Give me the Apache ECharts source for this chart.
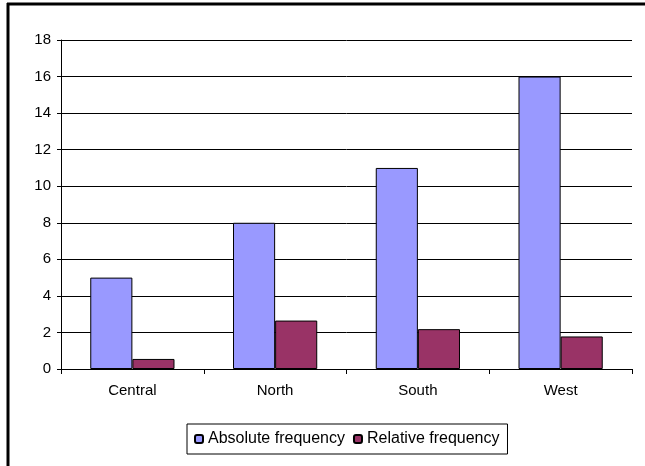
<!DOCTYPE html>
<html>
<head>
<meta charset="utf-8">
<script src="https://cdn.jsdelivr.net/npm/echarts@6/dist/echarts.min.js"></script>
<style>
  html, body { margin: 0; padding: 0; background: #fff; }
  #chart { width: 645px; height: 466px; }
</style>
</head>
<body>
<div id="chart"></div>
<script>
// Frequency table by region
const regions = ['Central', 'North', 'South', 'West'];
const absoluteFrequency = [5, 8, 11, 16];
const relativeFrequency = [0.55, 2.65, 2.18, 1.78];
const yTicks = [0, 2, 4, 6, 8, 10, 12, 14, 16, 18];

const chart = echarts.init(document.getElementById('chart'), null, { renderer: 'canvas' });
const font = 'Liberation Sans, Arial, sans-serif';

chart.setOption({
  animation: false,
  backgroundColor: '#fff',
  graphic: [
    // frame around the chart area (top and left edges)
    { type: 'line', shape: { x1: 7, y1: 4, x2: 645, y2: 4 }, style: { stroke: '#000', lineWidth: 3 } },
    { type: 'line', shape: { x1: 8, y1: 3, x2: 8, y2: 466 }, style: { stroke: '#000', lineWidth: 3 } }
  ],
  grid: { left: 61, right: 13, top: 40, bottom: 97 },
  legend: {
    bottom: 12,
    left: 187,
    itemWidth: 8,
    itemHeight: 8,
    itemGap: 8,
    padding: [7, 8, 7, 7],
    borderColor: '#000',
    borderWidth: 1,
    textStyle: { fontFamily: font, fontSize: 16, color: '#000' },
    data: ['Absolute frequency', 'Relative frequency']
  },
  xAxis: {
    type: 'category',
    data: regions,
    axisLine: { lineStyle: { color: '#000', width: 1 } },
    axisTick: { show: true, length: 5, lineStyle: { color: '#000' } },
    axisLabel: { fontFamily: font, fontSize: 15, color: '#000', margin: 14 }
  },
  yAxis: {
    type: 'value',
    min: yTicks[0],
    max: yTicks[yTicks.length - 1],
    interval: 2,
    axisLine: { show: true, lineStyle: { color: '#000', width: 1 } },
    axisTick: { show: true, length: 4, lineStyle: { color: '#000' } },
    axisLabel: { fontFamily: font, fontSize: 15, color: '#000', margin: 10 },
    splitLine: { show: true, lineStyle: { color: '#000', width: 1 } }
  },
  series: [
    {
      name: 'Absolute frequency',
      type: 'bar',
      data: absoluteFrequency,
      barGap: '0%',
      barCategoryGap: '41%',
      itemStyle: { color: '#9999ff', borderColor: '#000', borderWidth: 1 }
    },
    {
      name: 'Relative frequency',
      type: 'bar',
      data: relativeFrequency,
      itemStyle: { color: '#993366', borderColor: '#000', borderWidth: 1 }
    }
  ]
});
</script>
</body>
</html>
